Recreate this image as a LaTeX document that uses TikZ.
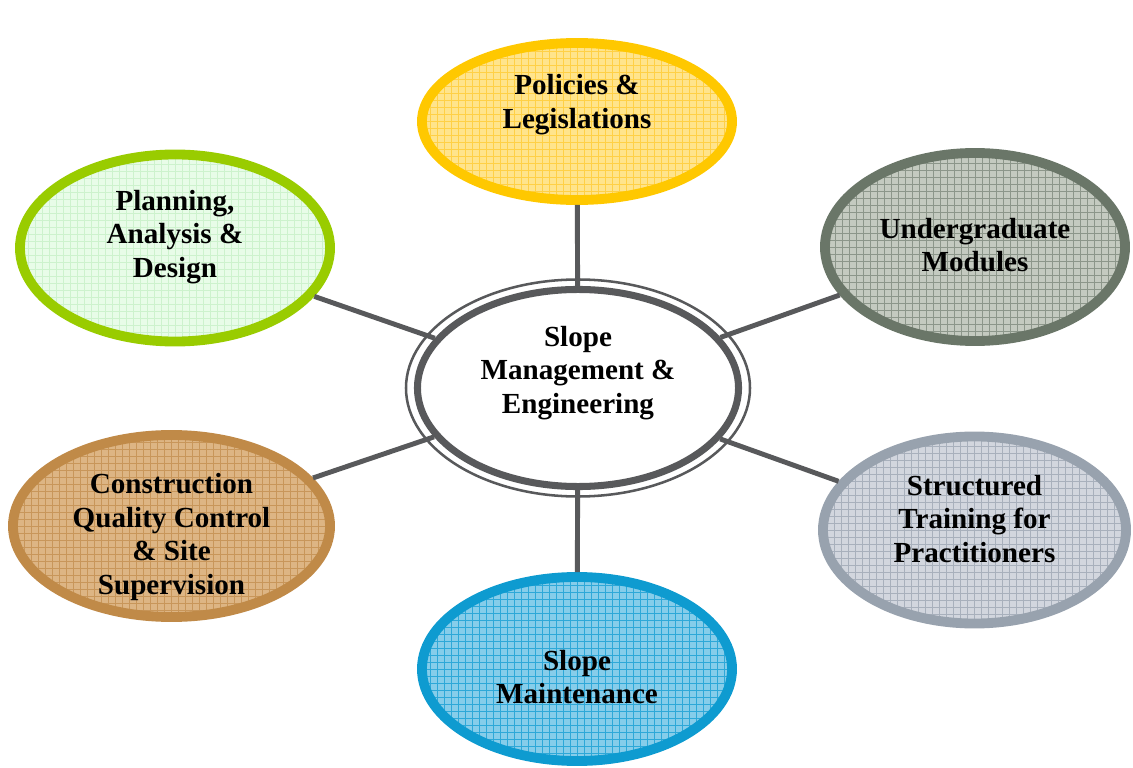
\documentclass[tikz,border=0pt]{standalone}
\usepackage{fontspec}
\setmainfont{Liberation Serif}
\usetikzlibrary{shapes.geometric}

\definecolor{polline}{RGB}{255,200,0}
\definecolor{polfill}{RGB}{255,228,140}
\definecolor{polgrid}{RGB}{255,208,70}
\definecolor{ugline}{RGB}{106,118,104}
\definecolor{ugfill}{RGB}{196,202,192}
\definecolor{uggrid}{RGB}{140,150,138}
\definecolor{planline}{RGB}{153,204,0}
\definecolor{planfill}{RGB}{232,252,232}
\definecolor{plangrid}{RGB}{205,242,205}
\definecolor{conline}{RGB}{192,138,72}
\definecolor{confill}{RGB}{221,181,132}
\definecolor{congrid}{RGB}{200,150,90}
\definecolor{trline}{RGB}{152,162,174}
\definecolor{trfill}{RGB}{210,214,222}
\definecolor{trgrid}{RGB}{168,176,188}
\definecolor{mtline}{RGB}{14,155,208}
\definecolor{mtfill}{RGB}{134,205,234}
\definecolor{mtgrid}{RGB}{46,168,216}
\definecolor{hubgray}{RGB}{88,89,91}

\tikzset{
  bubble/.style n args={3}{ellipse, inner sep=0pt, draw=#1, fill=#2, line width=7pt,
    path picture={\draw[#3, line width=0.4pt, step=0.175cm]
      (path picture bounding box.south west) grid (path picture bounding box.north east);}},
  txt/.style={font=\fontsize{20.7}{24}\selectfont\bfseries, align=center, text=black},
  spoke/.style={draw=hubgray, line width=3.5pt},
}

\begin{document}
\begin{tikzpicture}[x=0.025cm, y=-0.025cm]
  \useasboundingbox (0,0) rectangle (1133,768);

  % centre
  \node[ellipse, draw=hubgray, fill=white, line width=5pt, inner sep=0pt,
        minimum width=8.025cm, minimum height=4.925cm,
        label={[txt, yshift=0.375cm]center:Slope\\Management \&\\Engineering}] (hub) at (578,388) {};
  \draw[hubgray, line width=1.8pt] (hub.center) ellipse [x radius=172, y radius=108.5];

  % satellites
  \node[bubble={polline}{polfill}{polgrid}, minimum width=7.75cm, minimum height=3.925cm,
        label={[txt, yshift=0.425cm]center:Policies \&\\Legislations}] (pol) at (577,121.5) {};
  \node[bubble={ugline}{ugfill}{uggrid}, minimum width=7.5cm, minimum height=4.7cm,
        label={[txt, yshift=0.05cm]center:Undergraduate\\Modules}] (ug) at (975,247) {};
  \node[bubble={planline}{planfill}{plangrid}, minimum width=7.75cm, minimum height=4.675cm,
        label={[txt, yshift=0.275cm]center:Planning,\\Analysis \&\\Design}] (plan) at (175,248) {};
  \node[bubble={conline}{confill}{congrid}, minimum width=7.925cm, minimum height=4.55cm,
        label={[txt, yshift=-0.275cm]center:Construction\\Quality Control\\\& Site\\Supervision}] (con) at (171.5,526) {};
  \node[bubble={trline}{trfill}{trgrid}, minimum width=7.575cm, minimum height=4.675cm,
        label={[txt, yshift=0.275cm]center:Structured\\Training for\\Practitioners}] (tr) at (974.5,530) {};
  \node[bubble={mtline}{mtfill}{mtgrid}, minimum width=7.75cm, minimum height=4.6cm,
        label={[txt, yshift=-0.2cm]center:Slope\\Maintenance}] (mt) at (577,669) {};

  % spokes
  \draw[spoke] (hub) -- (pol);
  \draw[spoke] (hub) -- (ug);
  \draw[spoke] (hub) -- (plan);
  \draw[spoke] (hub) -- (con);
  \draw[spoke] (hub) -- (tr);
  \draw[spoke] (hub) -- (mt);
\end{tikzpicture}
\end{document}
